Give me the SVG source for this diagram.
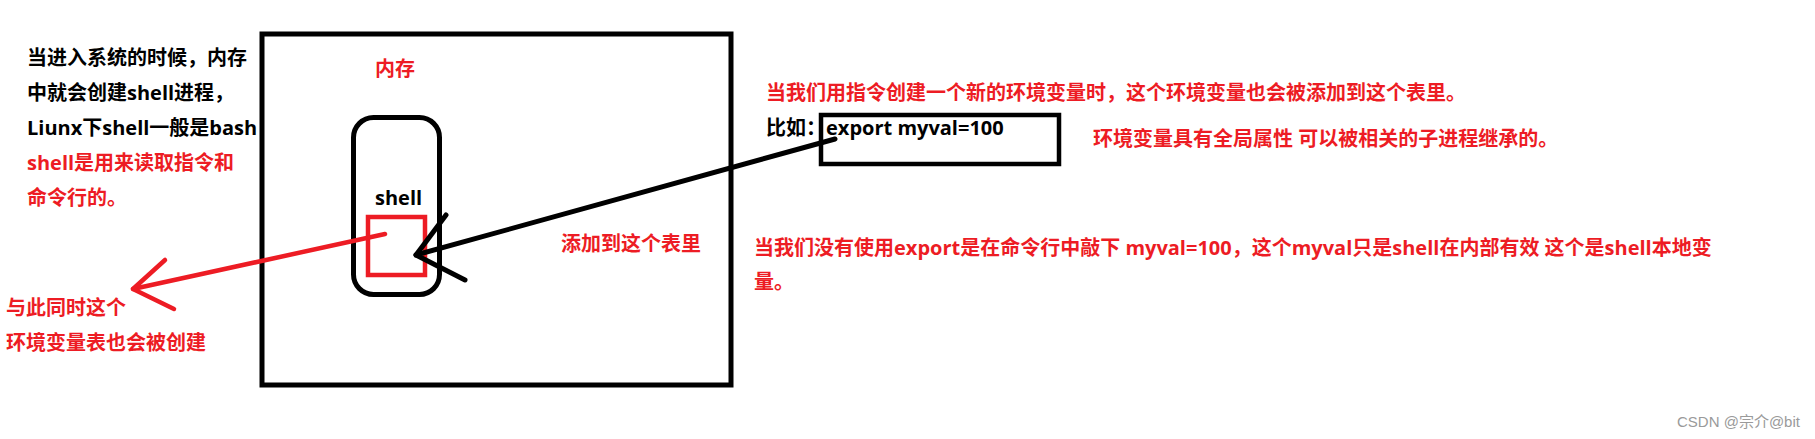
<svg xmlns="http://www.w3.org/2000/svg" width="1815" height="439" viewBox="0 0 1815 439">
<style>
.t{font-family:"Open Sans","Noto Sans CJK SC",sans-serif;font-weight:700;font-size:20px}
.k{fill:#000}
.r{fill:#ED1C24}
.box{fill:none;stroke:#000;stroke-width:5}
.wm{font-family:"Liberation Sans","Noto Sans CJK SC",sans-serif;font-size:15px;fill:#9a9a9a}
</style>
<rect width="1815" height="439" fill="#fff"/>
<g id="memory">
<rect class="box" x="262" y="34" width="469" height="351"/>
<text class="t r" x="375" y="76">内存</text>
</g>
<g id="shell">
<rect class="box" x="353.5" y="117.5" width="86" height="177" rx="20" ry="20"/>
<text class="t k" x="375" y="205">shell</text>
</g>
<g id="envtable">
<rect x="368" y="217" width="57" height="58" fill="none" stroke="#ED1C24" stroke-width="4.5"/>
</g>
<g id="export">
<rect x="821" y="115" width="238" height="49" fill="none" stroke="#000" stroke-width="4.5"/>
<text class="t k" x="766" y="135">比如：export myval=100</text>
</g>
<g id="connectors" fill="none" stroke-linecap="round" stroke-linejoin="round">
<g stroke="#000" stroke-width="5">
<line x1="835" y1="139" x2="416" y2="255"/>
<polyline points="446,215 416,255 465,280"/>
</g>
<g stroke="#ED1C24" stroke-width="4.5">
<line x1="385" y1="234" x2="133" y2="289"/>
<polyline points="165,260 133,289 174,309"/>
</g>
</g>
<g id="notes">
<text class="t k" x="27" y="65">当进入系统的时候，内存</text>
<text class="t k" x="27" y="100">中就会创建shell进程，</text>
<text class="t k" x="27" y="135">Liunx下shell一般是bash</text>
<text class="t r" x="27" y="170">shell是用来读取指令和</text>
<text class="t r" x="27" y="205">命令行的。</text>
<text class="t r" x="6" y="315">与此同时这个</text>
<text class="t r" x="6" y="350">环境变量表也会被创建</text>
<text class="t r" x="561" y="251">添加到这个表里</text>
<text class="t r" x="766" y="100">当我们用指令创建一个新的环境变量时，这个环境变量也会被添加到这个表里。</text>
<text class="t r" x="1093" y="146">环境变量具有全局属性 可以被相关的子进程继承的。</text>
<text class="t r" x="754" y="255">当我们没有使用export是在命令行中敲下 myval=100，这个myval只是shell在内部有效 这个是shell本地变</text>
<text class="t r" x="754" y="289">量。</text>
</g>
<text class="wm" x="1677" y="427">CSDN @宗介@bit</text>
</svg>
